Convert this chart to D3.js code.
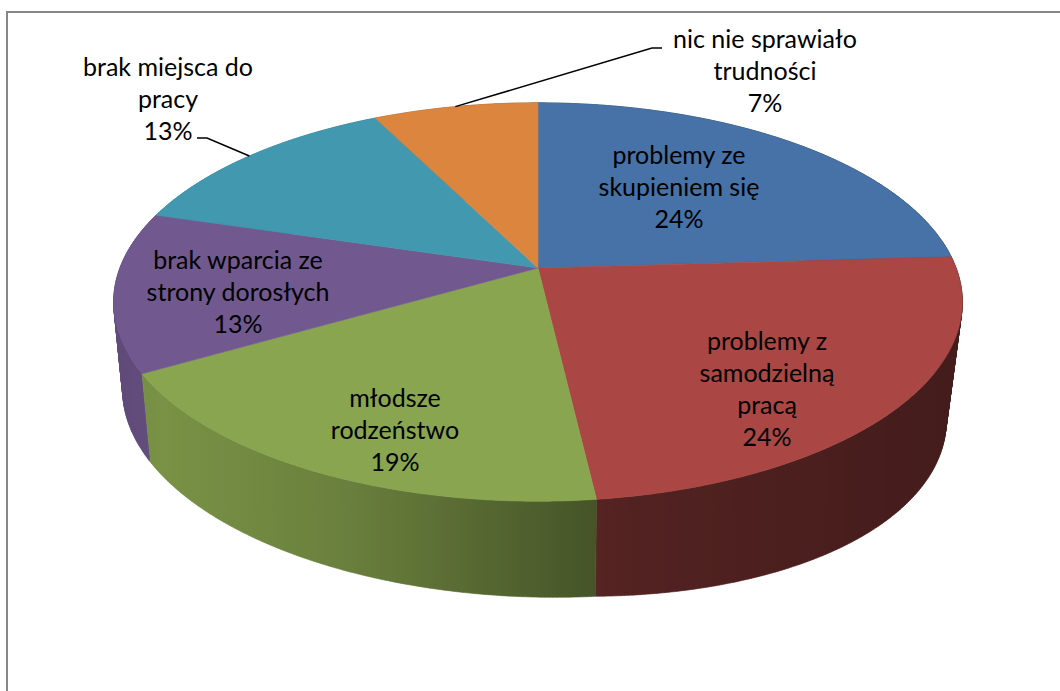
<!DOCTYPE html>
<html>
<head>
<meta charset="utf-8">
<script src="https://cdn.jsdelivr.net/npm/d3@7"></script>
<style>
  body { margin: 0; background: #fff; }
  text { font-family: Lato, "Open Sans", sans-serif; font-size: 25px; fill: #000; }
</style>
</head>
<body>
<svg id="chart" width="1060" height="691"></svg>
<script>
// data (counts that round to the shown percentages)
var categories = ["problemy ze\nskupieniem się", "problemy z\nsamodzielną\npracą", "młodsze\nrodzeństwo",
                  "brak wparcia ze\nstrony dorosłych", "brak miejsca do\npracy", "nic nie sprawiało\ntrudności"];
var counts = [13, 13, 10, 7, 7, 4];
var colors = ["#4F81BD", "#C0504D", "#9BBB59", "#8064A2", "#4BACC6", "#F79646"];

// layout only: label anchor (centre x, first baseline) and leader knee for outside labels
var labelPos = [[679, 164], [767, 350], [395, 407], [238, 269], [168, 76], [765, 48]];
var leaderKnee = [null, null, null, null, [207, 138, -10], [652, 48, 10]];

var svg = d3.select("#chart");
var total = d3.sum(counts);

// perspective camera for the top face
var cam = { cx: 538, cy: 268, s: 2170, d: 5.19, tilt: 27.55 * Math.PI / 180 };
var sn = Math.sin(cam.tilt), cs = Math.cos(cam.tilt);

function proj(r, a) {
    var X = r * Math.sin(a), Z = r * Math.cos(a);
    var depth = cam.d + Z * cs;
    return [cam.cx + cam.s * X / depth, cam.cy - cam.s * Z * sn / depth];
}

// bottom rim: top rim pulled in a little at the sides and pushed down (thicker to the right)
var thick = d3.scaleLinear().domain([115, 597, 962]).range([88, 97, 118]);
var shiftX = d3.scaleLinear().domain([115, 597, 962]).range([9, -1, -16]);
function drop(p) {
    return [p[0] + shiftX(p[0]), p[1] + thick(p[0])];
}

function rim(a0, a1) {
    var n = Math.max(2, Math.ceil((a1 - a0) / (0.5 * Math.PI / 180)));
    return d3.range(n + 1).map(function (i) { return proj(1, a0 + (a1 - a0) * i / n); });
}

var pie = d3.pie().sort(null).value(function (d) { return d; });
var arcs = pie(counts);

var line = d3.line();

// side lighting: brighter on the left, dark on the right
var shade = d3.scaleLinear()
    .domain([115, 160, 350, 540, 620, 963])
    .range([0.74, 0.78, 0.68, 0.50, 0.43, 0.35])
    .clamp(true);

function scaleColor(c, k) {
    c = d3.rgb(c);
    return d3.rgb(c.r * k, c.g * k, c.b * k).formatHex();
}

var defs = svg.append("defs");
colors.forEach(function (c, i) {
    var g = defs.append("linearGradient")
        .attr("id", "side" + i)
        .attr("gradientUnits", "userSpaceOnUse")
        .attr("x1", 110).attr("x2", 970).attr("y1", 0).attr("y2", 0);
    d3.range(110, 971, 10).forEach(function (x) {
        g.append("stop")
            .attr("offset", (x - 110) / 860)
            .attr("stop-color", scaleColor(c, shade(x)));
    });
});

// chart frame (runs off the picture on the right and bottom)
svg.append("rect")
    .attr("x", 7).attr("y", 12).attr("width", 1200).attr("height", 1000)
    .attr("fill", "none").attr("stroke", "#878787").attr("stroke-width", 2);

// outer wall: union of small quads, all wound the same way
function wallPath(d) {
    var top = rim(d.startAngle, d.endAngle);
    var bot = top.map(drop);
    var out = "";
    for (var i = 0; i < top.length - 1; i++) {
        var q = [top[i], top[i + 1], bot[i + 1], bot[i]];
        if (d3.polygonArea(q) < 0) q.reverse();
        out += line(q) + "Z";
    }
    return out;
}

var backFirst = arcs.slice().sort(function (a, b) {
    return Math.cos((b.startAngle + b.endAngle) / 2) - Math.cos((a.startAngle + a.endAngle) / 2);
});

svg.append("g").selectAll("path")
    .data(backFirst)
    .enter().append("path")
    .attr("d", wallPath)
    .attr("fill", function (d) { return "url(#side" + d.index + ")"; })
    .attr("stroke", function (d) { return "url(#side" + d.index + ")"; })
    .attr("stroke-width", 0.6);

// top faces
svg.append("g").selectAll("path")
    .data(arcs)
    .enter().append("path")
    .attr("d", function (d) {
        return line([proj(0, 0)].concat(rim(d.startAngle, d.endAngle))) + "Z";
    })
    .attr("fill", function (d) { return scaleColor(colors[d.index], 0.885); })
    .attr("stroke", function (d) { return scaleColor(colors[d.index], 0.885); })
    .attr("stroke-width", 0.6);

// leader lines for the two outside labels
arcs.forEach(function (d, i) {
    var k = leaderKnee[i];
    if (!k) return;
    var start = proj(1, (d.startAngle + d.endAngle) / 2);
    svg.append("path")
        .attr("d", line([start, [k[0], k[1]], [k[0] + k[2], k[1]]]))
        .attr("fill", "none")
        .attr("stroke", "#000")
        .attr("stroke-width", 1.5);
});

// labels
var labels = svg.append("g").selectAll("text")
    .data(arcs)
    .enter().append("text")
    .attr("text-anchor", "middle");

labels.each(function (d, i) {
    var lines = categories[i].split("\n").concat([Math.round(d.value / total * 100) + "%"]);
    var t = d3.select(this);
    lines.forEach(function (s, j) {
        t.append("tspan")
            .attr("x", labelPos[i][0])
            .attr("y", labelPos[i][1] + j * 32)
            .text(s);
    });
});
</script>
</body>
</html>
